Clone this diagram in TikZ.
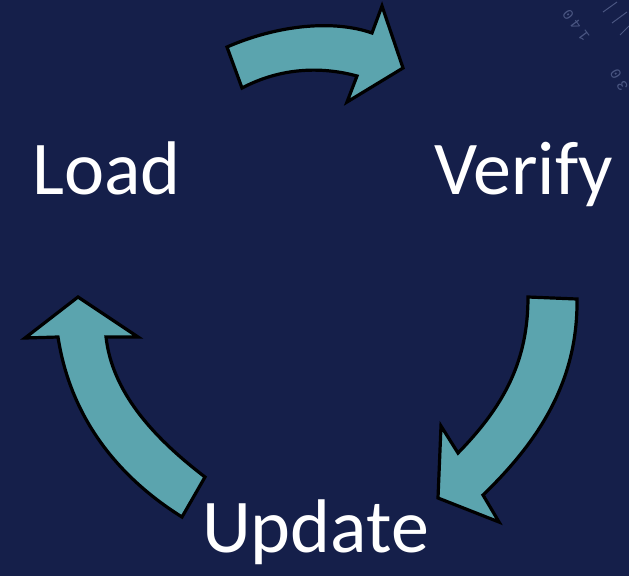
\documentclass[tikz,border=0pt]{standalone}
\usepackage{fontspec}
\setmainfont{Carlito}
\newfontfamily\dialfont{Liberation Mono}
\definecolor{navy}{RGB}{21,31,74}
\definecolor{teal}{RGB}{91,164,174}
\definecolor{dial}{RGB}{74,86,130}
\tikzset{
  blockarrow/.style={fill=teal, draw=black, line width=3.2pt, line join=miter},
  label/.style={text=white, inner sep=0pt, anchor=base west,
    font=\fontsize{76}{90}\selectfont},
  dialtext/.style={text=dial, inner sep=0pt, font=\dialfont\fontsize{15}{15}\selectfont},
  dialtick/.style={draw=dial, line width=1pt}
}
\begin{document}
\begin{tikzpicture}[x=1pt, y=-1pt]
  % canvas
  \fill[navy] (0,0) rectangle (629,576);
  \useasboundingbox (0,0) rectangle (629,576);
  \clip (0,0) rectangle (629,576);

  % faint dial marks in the corner
  \node[dialtext, rotate=127] (dialA) at (576,25) {1\hspace{4pt}4\hspace{4pt}0};
  \node[dialtext, rotate=120] (dialB) at (619,80) {3\hspace{4pt}0};
  \draw[dialtick] (603,12) -- (617,2);
  \draw[dialtick] (612,23) -- (627,12);
  \draw[dialtick] (620,35) -- (629,26);

  % top arrow: Load -> Verify
  \draw[blockarrow] (227,47) .. controls (280,24) and (335,20) .. (372,33)
    -- (382,6) -- (403,68) -- (347,102) -- (357,76)
    .. controls (320,66) and (280,68) .. (242,88) -- cycle;

  % right arrow: Verify -> Update
  \draw[blockarrow] (528,297) -- (577,299)
    .. controls (578,380) and (540,440) .. (483,495)
    -- (499,522) -- (438,498) -- (441,426) -- (458,453)
    .. controls (505,405) and (528,360) .. (528,297) -- cycle;

  % left arrow: Update -> Load
  \draw[blockarrow] (182,517) .. controls (115,475) and (70,415) .. (58,337)
    -- (25,338) -- (78,297) -- (138,337) -- (106,337)
    .. controls (112,390) and (150,435) .. (205,477) -- cycle;

  % step labels
  \node[label] (load) at (32,194) {Load};
  \node[label] (verify) at (434,194) {Verify};
  \node[label] (update) at (202,552) {Update};
\end{tikzpicture}
\end{document}
